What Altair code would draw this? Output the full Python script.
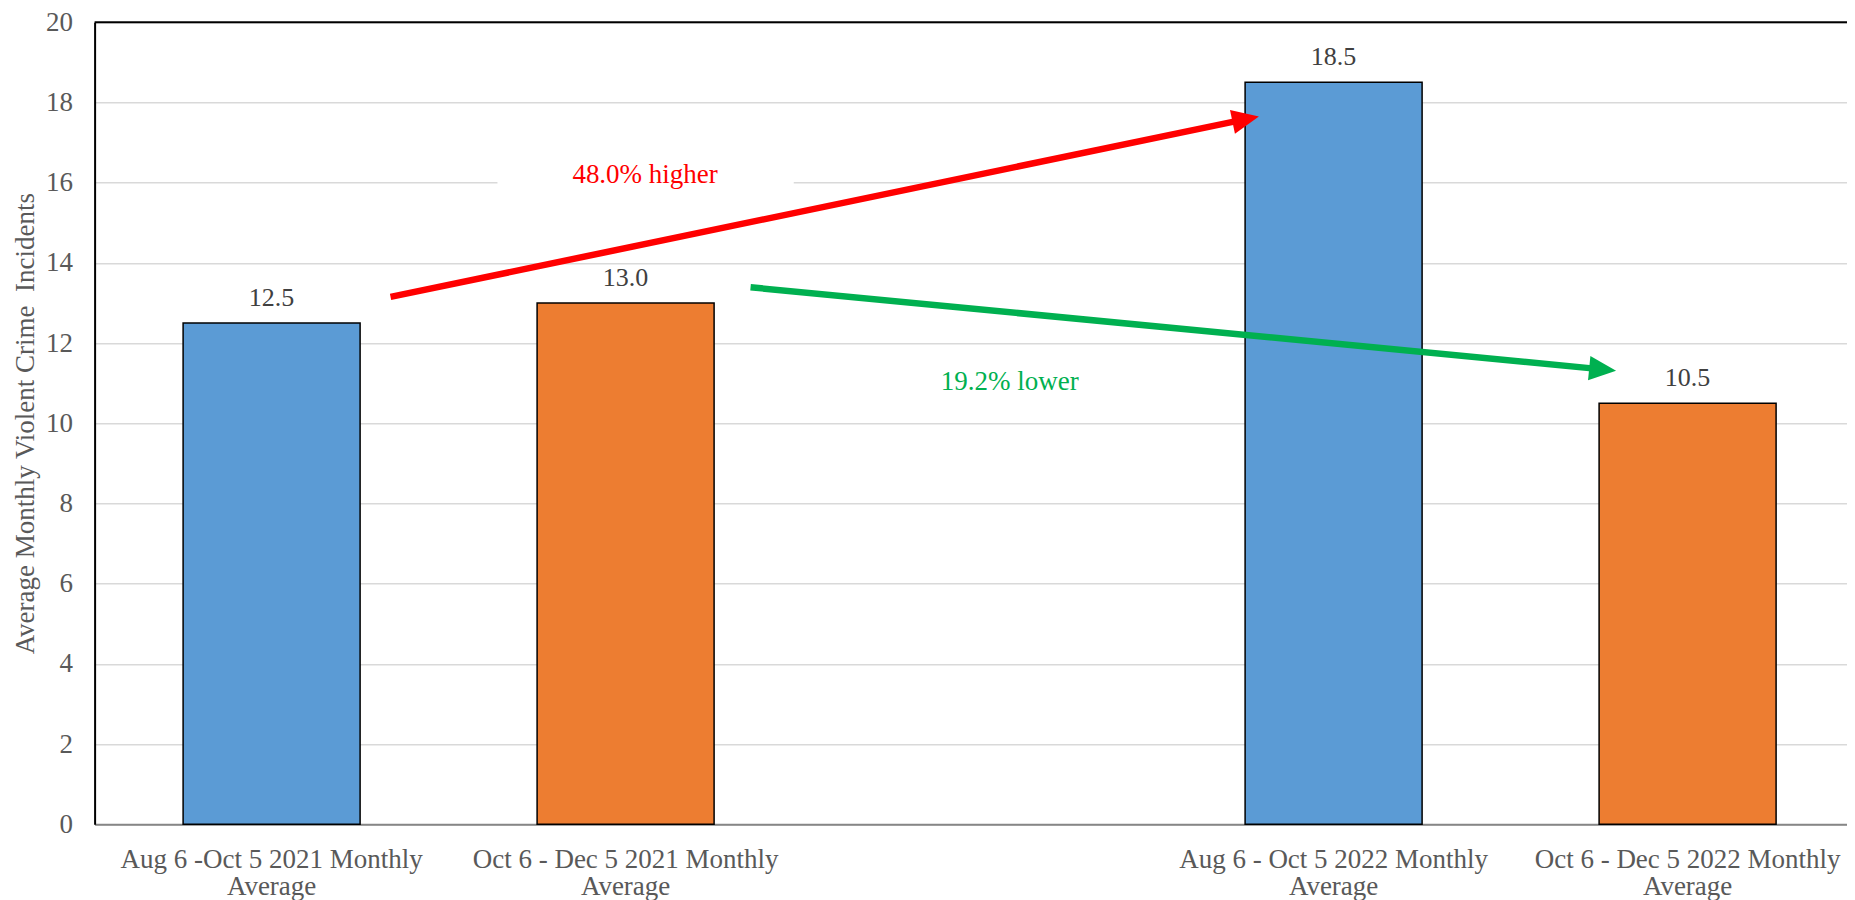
import math
import altair as alt
import pandas as pd

# ---------------- data ----------------
categories = [
    "Aug 6 -Oct 5 2021 Monthly\nAverage",
    "Oct 6 - Dec 5 2021 Monthly\nAverage",
    " ",
    "Aug 6 - Oct 5 2022 Monthly\nAverage",
    "Oct 6 - Dec 5 2022 Monthly\nAverage",
]
bar_categories = [categories[0], categories[1], categories[3], categories[4]]
values = [12.5, 13.0, 18.5, 10.5]
periods = ["Aug 6 - Oct 5", "Oct 6 - Dec 5", "Aug 6 - Oct 5", "Oct 6 - Dec 5"]
period_names = ["Aug 6 - Oct 5", "Oct 6 - Dec 5"]
period_colors = ["#5B9BD5", "#ED7D31"]

# annotations (x in category slots from the left edge, y in incidents)
arrow_labels = ["48.0% higher", "19.2% lower"]
arrow_colors = ["#FF0000", "#00B050"]
arrow_tail_x = [0.836, 1.853]
arrow_tail_y = [13.15, 13.39]
arrow_tip_x = [3.289, 4.298]
arrow_tip_y = [17.65, 11.31]
label_x = [1.555, 2.585]
label_y = [16.0, 10.83]
label_box_x = [1.138, 1.975]
label_box_y = [15.45, 16.7]

# ---------------- layout ----------------
PAD = {"left": 86.6, "top": 14.2, "right": 0, "bottom": 80}
W, H = 1839 - PAD["left"], 802.1
slot_px = 354.0
ppu = H / 20.0
n = len(categories)
visible_slots = W / slot_px
pad_outer = (visible_slots - (n - 0.5)) / 2
band_align = 0.25 / (2 * pad_outer)

FONT = "Liberation Serif"
GREY = "#595959"

bars_df = pd.DataFrame({"category": bar_categories, "value": values, "period": periods})

# arrows
head_len = 27.0
line_rows, head_rows = [], []
for i, name in enumerate(arrow_labels):
    dx = (arrow_tip_x[i] - arrow_tail_x[i]) * slot_px
    dy = -(arrow_tip_y[i] - arrow_tail_y[i]) * ppu
    L = math.hypot(dx, dy)
    ux, uy = dx / L, dy / L
    end_x = arrow_tip_x[i] - head_len * 0.9 * ux / slot_px
    end_y = arrow_tip_y[i] + head_len * 0.9 * uy / ppu
    line_rows.append({"arrow": name, "order": 0, "x": arrow_tail_x[i], "y": arrow_tail_y[i], "color": arrow_colors[i]})
    line_rows.append({"arrow": name, "order": 1, "x": end_x, "y": end_y, "color": arrow_colors[i]})
    ang = math.degrees(math.atan2(dy, dx)) % 360
    head_rows.append({"arrow": name, "x": arrow_tip_x[i], "y": arrow_tip_y[i], "angle": ang, "color": arrow_colors[i]})
lines_df = pd.DataFrame(line_rows)
heads_df = pd.DataFrame(head_rows)
labels_df = pd.DataFrame({"text": arrow_labels, "x": label_x, "y": label_y, "color": arrow_colors})
box_df = pd.DataFrame({"x": [label_box_x[0]], "x2": [label_box_x[1]], "y": [label_box_y[0]], "y2": [label_box_y[1]]})

yscale = alt.Scale(domain=[0, 20], nice=False, zero=True)
xq = alt.Scale(domain=[0, visible_slots], nice=False, zero=False)

y_axis = alt.Axis(
    values=list(range(0, 21, 2)), grid=True, gridColor="#D9D9D9", gridWidth=1.5,
    ticks=False, labelPadding=22, labelFont=FONT, labelFontSize=27, labelColor=GREY,
    domainColor="#000000", domainWidth=2,
    title="Average Monthly Violent Crime\u00a0 Incidents", titleFont=FONT, titleFontSize=27,
    titleFontWeight="normal", titleColor=GREY, titlePadding=6,
)

band_scale = alt.Scale(domain=categories, paddingInner=0.5, paddingOuter=pad_outer,
                       align=band_align, round=False)

x_band = alt.X(
    "category:N",
    scale=band_scale,
    axis=alt.Axis(
        title=None, labelAngle=0, labelExpr="split(datum.label, '\\n')",
        labelFont=FONT, labelFontSize=27, labelColor=GREY, labelPadding=22,
        labelLineHeight=27, ticks=False, domainColor="#868686", domainWidth=2,
        grid=False, labelLimit=500,
    ),
)

bars = alt.Chart(bars_df).mark_bar(stroke="#000000", strokeWidth=1.5).encode(
    x=x_band,
    y=alt.Y("value:Q", scale=yscale, axis=y_axis),
    color=alt.Color("period:N", scale=alt.Scale(domain=period_names, range=period_colors), legend=None),
)
bar_text = alt.Chart(bars_df).mark_text(
    dy=-17, baseline="alphabetic", font=FONT, fontSize=26, color="#404040"
).encode(
    x=alt.X("category:N", scale=band_scale),
    y=alt.Y("value:Q", scale=yscale),
    text=alt.Text("value:Q", format=".1f"),
)
top_border = alt.Chart(pd.DataFrame({"v": [20]})).mark_rule(color="#000000", strokeWidth=2).encode(
    y=alt.Y("v:Q", scale=yscale)
)
base_layer = alt.layer(bars, bar_text, top_border)

box = alt.Chart(box_df).mark_rect(color="#FFFFFF").encode(
    x=alt.X("x:Q", scale=xq, axis=None), x2="x2:Q",
    y=alt.Y("y:Q", scale=yscale), y2="y2:Q",
)
arrow_text = alt.Chart(labels_df).mark_text(
    font=FONT, fontSize=27, baseline="alphabetic", align="center"
).encode(
    x=alt.X("x:Q", scale=xq, axis=None),
    y=alt.Y("y:Q", scale=yscale),
    text="text:N",
    color=alt.Color("color:N", scale=None),
)
shafts = alt.Chart(lines_df).mark_line(strokeWidth=6.5, strokeCap="butt").encode(
    x=alt.X("x:Q", scale=xq, axis=None),
    y=alt.Y("y:Q", scale=yscale),
    detail="arrow:N",
    order="order:Q",
    color=alt.Color("color:N", scale=None),
)
heads = alt.Chart(heads_df).mark_point(
    shape="M0,0L-2,-0.9L-2,0.9Z", filled=True, size=head_len ** 2, opacity=1, strokeWidth=0
).encode(
    x=alt.X("x:Q", scale=xq, axis=None),
    y=alt.Y("y:Q", scale=yscale),
    angle=alt.Angle("angle:Q", scale=None),
    color=alt.Color("color:N", scale=None),
)
annot_layer = alt.layer(box, arrow_text, shafts, heads)

chart = alt.layer(base_layer, annot_layer).resolve_scale(x="independent").properties(
    width=W, height=H, padding=PAD, autosize=alt.AutoSizeParams(type="none")
).configure_view(stroke=None).configure(background="#FFFFFF")

chart.save("out.html", embed_options={"renderer": "svg", "actions": False})
